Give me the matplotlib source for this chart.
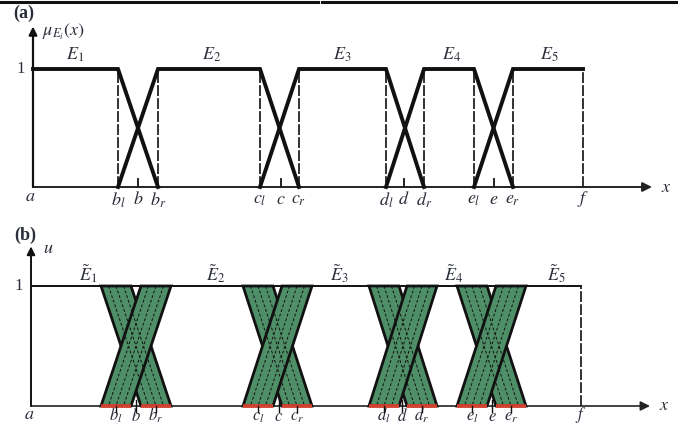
import matplotlib
matplotlib.use('Agg')
import matplotlib.pyplot as plt
from matplotlib.lines import Line2D

plt.rcParams['font.family'] = ['Liberation Serif', 'DejaVu Serif']
plt.rcParams['mathtext.fontset'] = 'stix'

# breakpoint positions along x (a = 0)
names = ['b', 'c', 'd', 'e']
left_pts = [85, 227, 353, 441]
mid_pts = [105, 248, 371, 461]
right_pts = [125, 266, 391, 480]
f_pt = 550
band_half = 15          # half width of uncertainty band in (b)

top_labels = [r'$E_1$', r'$E_2$', r'$E_3$', r'$E_4$', r'$E_5$']
top_label_x = [42, 179, 309, 419, 516]
bot_labels = [r'$\tilde{E}_1$', r'$\tilde{E}_2$', r'$\tilde{E}_3$', r'$\tilde{E}_4$', r'$\tilde{E}_5$']
bot_label_x = [57, 185, 308, 423, 525]

txt_col = '#2a2d3a'
green = '#4f8f67'
red = '#d8402e'

fig = plt.figure(figsize=(6.78, 4.26), dpi=100)
ax1 = fig.add_axes([0, 0.5, 1, 0.5])
ax2 = fig.add_axes([0, 0, 1, 0.5])
ax1.set_xlim(-33, 645)
ax1.set_ylim(-26 / 118, 1 + 69 / 118)
ax2.set_xlim(-31, 647)
ax2.set_ylim(-20 / 120, 1 + 73 / 120)
for ax in (ax1, ax2):
    ax.axis('off')

# ---------- panel (a) ----------
ax = ax1
ax.annotate('', xy=(619, 0), xytext=(0, 0),
            arrowprops=dict(arrowstyle='-|>', lw=1.4, color='#222222', mutation_scale=14,
                            shrinkA=0, shrinkB=0))
ax.annotate('', xy=(0, 1.36), xytext=(0, 0),
            arrowprops=dict(arrowstyle='-|>', lw=1.6, color='#111111', mutation_scale=12,
                            shrinkA=0, shrinkB=0))
# trapezoids
for i in range(5):
    px, py = [], []
    if i == 0:
        px += [0]; py += [1]
    else:
        px += [left_pts[i - 1], right_pts[i - 1]]; py += [0, 1]
    if i == 4:
        px += [f_pt]; py += [1]
    else:
        px += [left_pts[i], right_pts[i]]; py += [1, 0]
    ax.plot(px, py, color='#111111', lw=2.8, solid_joinstyle='miter', zorder=3)
for xv in left_pts + right_pts + [f_pt]:
    ax.plot([xv, xv], [0, 1], color='#222222', lw=1.3, ls=(0, (6, 1.2)), zorder=2)
for xv in mid_pts:
    ax.plot([xv, xv], [0, 0.065], color='#111111', lw=1.3)
ax.text(-8, 1, '1', ha='right', va='center', fontsize=12, color=txt_col)
ax.text(-20, 1.47, '(a)', ha='left', va='center', fontsize=13, fontweight='bold', color=txt_col)
ax.text(9, 1.31, r'$\mu_{E_i}(x)$', ha='left', va='center', fontsize=13, color=txt_col)
ax.text(628, 0, r'$x$', ha='left', va='center', fontsize=13, color=txt_col)
ax.text(-3, -0.08, r'$a$', ha='center', va='center', fontsize=13, color=txt_col)
ax.text(f_pt, -0.1, r'$f$', ha='center', va='center', fontsize=13, color=txt_col)
for n, l, m, r in zip(names, left_pts, mid_pts, right_pts):
    ax.text(l, -0.11, rf'${n}_l$', ha='center', va='center', fontsize=13, color=txt_col)
    ax.text(m, -0.11, rf'${n}$', ha='center', va='center', fontsize=13, color=txt_col)
    ax.text(r, -0.11, rf'${n}_r$', ha='center', va='center', fontsize=13, color=txt_col)
for lab, xv in zip(top_labels, top_label_x):
    ax.text(xv, 1.12, lab, ha='center', va='center', fontsize=13, color=txt_col)

# ---------- panel (b) ----------
ax = ax2
ax.annotate('', xy=(619, 0), xytext=(0, 0),
            arrowprops=dict(arrowstyle='-|>', lw=1.2, color='#222222', mutation_scale=14,
                            shrinkA=0, shrinkB=0))
ax.annotate('', xy=(0, 1.33), xytext=(0, 0),
            arrowprops=dict(arrowstyle='-|>', lw=1.4, color='#111111', mutation_scale=12,
                            shrinkA=0, shrinkB=0))
ax.plot([0, f_pt], [1, 1], color='#111111', lw=1.4, zorder=1)
ax.plot([f_pt, f_pt], [0, 1], color='#222222', lw=1.3, ls=(0, (6, 1.2)))
w = band_half
for l, m, r in zip(left_pts, mid_pts, right_pts):
    # falling band, then rising band
    for top_c, bot_c in [(l, r), (r, l)]:
        ax.fill([top_c - w, top_c + w, bot_c + w, bot_c - w], [1, 1, 0, 0],
                facecolor=green, edgecolor='#111111', lw=2.0, joinstyle='miter', zorder=3)
        for dd in (-w / 2, 0, w / 2):
            ax.plot([top_c + dd, bot_c + dd], [1, 0], color='#111111', lw=0.7,
                    ls=(0, (3, 2)), zorder=4)
    for c in (l, r):
        ax.plot([c - w, c + w], [0, 0], color=red, lw=2.6, solid_capstyle='butt', zorder=5)
        ax.plot([c, c], [0, -0.05], color='#111111', lw=1.0, zorder=5)
    ax.plot([m, m], [-0.05, 0.05], color='#111111', lw=1.0, zorder=5)
ax.text(-8, 1, '1', ha='right', va='center', fontsize=12, color=txt_col)
ax.text(-17, 1.42, '(b)', ha='left', va='center', fontsize=13, fontweight='bold', color=txt_col)
ax.text(12, 1.31, r'$u$', ha='left', va='center', fontsize=13, color=txt_col)
ax.text(628, 0, r'$x$', ha='left', va='center', fontsize=13, color=txt_col)
ax.text(-2, -0.07, r'$a$', ha='center', va='center', fontsize=13, color=txt_col)
ax.text(f_pt, -0.155, r'$f$', ha='center', va='bottom', fontsize=12, color=txt_col)
for n, l, m, r in zip(names, left_pts, mid_pts, right_pts):
    ax.text(l, -0.155, rf'${n}_l$', ha='center', va='bottom', fontsize=12, color=txt_col)
    ax.text(m, -0.155, rf'${n}$', ha='center', va='bottom', fontsize=12, color=txt_col)
    ax.text(r, -0.155, rf'${n}_r$', ha='center', va='bottom', fontsize=12, color=txt_col)
for lab, xv in zip(bot_labels, bot_label_x):
    ax.text(xv, 1.1, lab, ha='center', va='center', fontsize=13, color=txt_col)

# border line along the top of the image
fig.add_artist(Line2D([0, 318 / 678], [1 - 1.5 / 426] * 2, color='#111111', lw=2.2))
fig.add_artist(Line2D([322 / 678, 1], [1 - 1.5 / 426] * 2, color='#111111', lw=2.2))

fig.savefig('out.png', dpi=100)
